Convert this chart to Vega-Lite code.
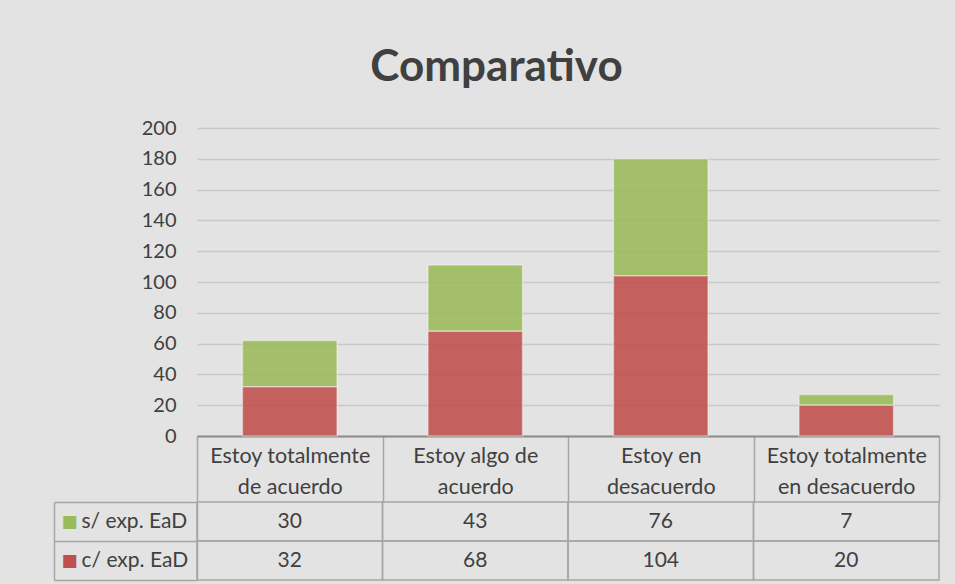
{
  "$schema": "https://vega.github.io/schema/vega-lite/v6.json",
  "background": "#e3e3e3",
  "padding": {"left": 53, "top": 46, "right": 15, "bottom": 4},
  "title": {"text": "Comparativo", "fontSize": 44, "fontWeight": "bold", "font": "Lato", "color": "#404040", "anchor": "middle", "offset": 28},
  "data": {"values": [
    {"cat": "Estoy totalmente de acuerdo", "serie": "s/ exp. EaD", "value": 30},
    {"cat": "Estoy algo de acuerdo", "serie": "s/ exp. EaD", "value": 43},
    {"cat": "Estoy en desacuerdo", "serie": "s/ exp. EaD", "value": 76},
    {"cat": "Estoy totalmente en desacuerdo", "serie": "s/ exp. EaD", "value": 7},
    {"cat": "Estoy totalmente de acuerdo", "serie": "c/ exp. EaD", "value": 32},
    {"cat": "Estoy algo de acuerdo", "serie": "c/ exp. EaD", "value": 68},
    {"cat": "Estoy en desacuerdo", "serie": "c/ exp. EaD", "value": 104},
    {"cat": "Estoy totalmente en desacuerdo", "serie": "c/ exp. EaD", "value": 20}
  ]},
  "bounds": "flush",
  "spacing": 66,
  "vconcat": [
    {
      "width": 742,
      "height": 308,
      "mark": {"type": "bar", "width": {"band": 0.51}, "opacity": 0.88, "stroke": "#ffffff", "strokeOpacity": 0.45, "strokeWidth": 1.5},
      "encoding": {
        "x": {"field": "cat", "type": "nominal", "sort": ["Estoy totalmente de acuerdo", "Estoy algo de acuerdo", "Estoy en desacuerdo", "Estoy totalmente en desacuerdo"],
          "scale": {"paddingInner": 0, "paddingOuter": 0},
          "axis": {"title": null, "labelAngle": 0, "tickBand": "extent", "tickSize": 66, "tickColor": "#a6a6a6", "tickWidth": 1.5,
            "domainColor": "#8c8c8c", "domainWidth": 2, "labelFont": "Lato", "labelFontSize": 21.5, "labelColor": "#404040",
            "labelPadding": -40, "labelLineHeight": 31, "labelBaseline": "alphabetic", "minExtent": 66, "maxExtent": 66,
            "labelExpr": "datum.value == 'Estoy totalmente de acuerdo' ? ['Estoy totalmente', 'de acuerdo'] : datum.value == 'Estoy algo de acuerdo' ? ['Estoy algo de', 'acuerdo'] : datum.value == 'Estoy en desacuerdo' ? ['Estoy en', 'desacuerdo'] : datum.value == 'Estoy totalmente en desacuerdo' ? ['Estoy totalmente', 'en desacuerdo'] : ''"}},
        "y": {"field": "value", "type": "quantitative", "aggregate": "sum", "stack": "zero",
          "scale": {"domain": [0, 200], "nice": false},
          "axis": {"title": null, "values": [0, 20, 40, 60, 80, 100, 120, 140, 160, 180, 200], "ticks": false, "domain": false,
            "gridColor": "#c8c8c8", "gridWidth": 1.5, "labelFont": "Lato", "labelFontSize": 20, "labelColor": "#404040", "labelPadding": 21,
            "minExtent": 143, "maxExtent": 143}},
        "color": {"field": "serie", "type": "nominal", "scale": {"domain": ["s/ exp. EaD", "c/ exp. EaD"], "range": ["#9bbb59", "#c0504d"]}, "legend": null},
        "order": {"field": "serie", "sort": "ascending"}
      }
    },
    {
      "width": 742,
      "height": 78,
      "layer": [
        {
          "mark": {"type": "rect", "fillOpacity": 0, "stroke": "#a6a6a6", "strokeWidth": 1.5},
          "encoding": {
            "x": {"field": "cat", "type": "nominal", "sort": ["Estoy totalmente de acuerdo", "Estoy algo de acuerdo", "Estoy en desacuerdo", "Estoy totalmente en desacuerdo"], "scale": {"paddingInner": 0, "paddingOuter": 0}, "axis": null},
            "y": {"field": "serie", "type": "nominal", "sort": ["s/ exp. EaD", "c/ exp. EaD"], "scale": {"paddingInner": 0, "paddingOuter": 0},
              "axis": {"title": null, "tickBand": "extent", "tickSize": 143, "tickColor": "#a6a6a6", "tickWidth": 1.5, "domainColor": "#a6a6a6", "domainWidth": 1.5,
                "labelAlign": "left", "labelPadding": -27, "labelFont": "Lato", "labelFontSize": 21, "labelColor": "#404040", "minExtent": 143, "maxExtent": 143}}
          }
        },
        {
          "mark": {"type": "text", "font": "Lato", "fontSize": 21, "color": "#404040"},
          "encoding": {
            "x": {"field": "cat", "type": "nominal", "sort": ["Estoy totalmente de acuerdo", "Estoy algo de acuerdo", "Estoy en desacuerdo", "Estoy totalmente en desacuerdo"]},
            "y": {"field": "serie", "type": "nominal", "sort": ["s/ exp. EaD", "c/ exp. EaD"], "axis": null},
            "text": {"field": "value", "type": "quantitative"}
          }
        },
        {
          "mark": {"type": "rect", "opacity": 0},
          "encoding": {
            "y": {"field": "serie", "type": "nominal", "sort": ["s/ exp. EaD", "c/ exp. EaD"],
              "axis": {"title": null, "orient": "left", "offset": 143, "ticks": false, "domain": true, "domainColor": "#a6a6a6", "domainWidth": 1.5,
                "labelExpr": "'■'", "labelAlign": "left", "labelPadding": -7, "labelFontSize": 17, "labelFont": "DejaVu Sans",
                "labelColor": {"condition": {"test": "datum.value == 's/ exp. EaD'", "value": "#9bbb59"}, "value": "#c0504d"}}}
          }
        }
      ],
      "resolve": {"axis": {"y": "independent"}}
    }
  ],
  "config": {"view": {"stroke": null}, "font": "Lato"}
}
